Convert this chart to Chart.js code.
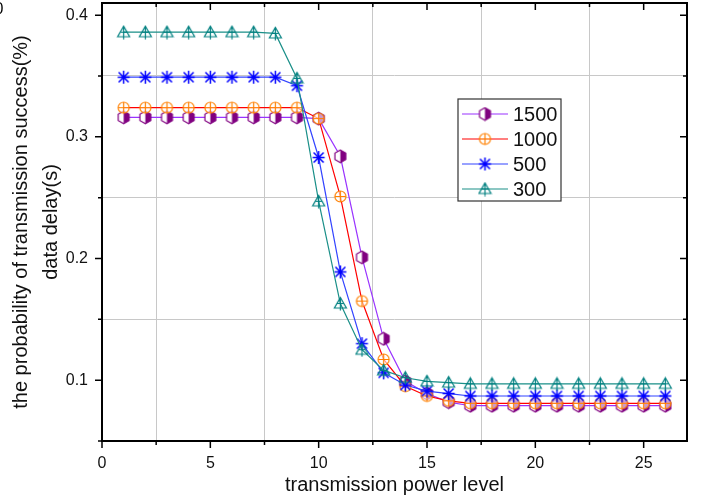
<!DOCTYPE html>
<html>
<head>
<meta charset="utf-8">
<script src="https://cdn.jsdelivr.net/npm/chart.js@4/dist/chart.umd.min.js"></script>
<style>
  html, body { margin: 0; padding: 0; background: #fff; }
  #chart { display: block; }
</style>
</head>
<body>
<canvas id="chart" width="704" height="503"></canvas>
<script>
'use strict';

// ---------------------------------------------------------------------------
// Data
// ---------------------------------------------------------------------------

const powerLevels = [1, 2, 3, 4, 5, 6, 7, 8, 9, 10, 11, 12, 13, 14, 15, 16, 17, 18, 19, 20, 21, 22, 23, 24, 25, 26];

const series1500 = [0.316, 0.316, 0.316, 0.316, 0.316, 0.316, 0.316, 0.316, 0.316, 0.315, 0.284, 0.201, 0.134,
                    0.099, 0.089, 0.082, 0.079, 0.079, 0.079, 0.079, 0.079, 0.079, 0.079, 0.079, 0.079, 0.079];
const series1000 = [0.324, 0.324, 0.324, 0.324, 0.324, 0.324, 0.324, 0.324, 0.324, 0.315, 0.251, 0.165, 0.117,
                    0.095, 0.087, 0.083, 0.081, 0.081, 0.081, 0.081, 0.081, 0.081, 0.081, 0.081, 0.081, 0.081];
const series500  = [0.349, 0.349, 0.349, 0.349, 0.349, 0.349, 0.349, 0.349, 0.342, 0.283, 0.189, 0.130, 0.106,
                    0.096, 0.091, 0.089, 0.087, 0.087, 0.087, 0.087, 0.087, 0.087, 0.087, 0.087, 0.087, 0.087];
const series300  = [0.386, 0.386, 0.386, 0.386, 0.386, 0.386, 0.386, 0.385, 0.348, 0.247, 0.163, 0.125, 0.108,
                    0.102, 0.099, 0.098, 0.097, 0.097, 0.097, 0.097, 0.097, 0.097, 0.097, 0.097, 0.097, 0.097];

const seriesLabels = ['1500', '1000', '500', '300'];

const xTickValues = [0, 2.5, 5, 7.5, 10, 12.5, 15, 17.5, 20, 22.5, 25];
const yTickValues = [0.05, 0.1, 0.15, 0.2, 0.25, 0.3, 0.35, 0.4];

const xTitle = 'transmission power level';
const yTitle = ['the probability of transmission success(%)', 'data delay(s)'];

// ---------------------------------------------------------------------------
// Marker canvases
// ---------------------------------------------------------------------------

const FONT = '"Liberation Sans", Arial, sans-serif';

function markerCanvas(draw) {
  const c = document.createElement('canvas');
  c.width = 15;
  c.height = 15;
  const g = c.getContext('2d');
  g.translate(7.5, 7.5);
  draw(g);
  return c;
}

const hexMarker = markerCanvas(g => {
  const r = 6.3;
  g.beginPath();
  for (let i = 0; i < 6; i++) {
    const a = -Math.PI / 2 + i * Math.PI / 3;
    const px = Math.cos(a) * r, py = Math.sin(a) * r;
    if (i === 0) g.moveTo(px, py); else g.lineTo(px, py);
  }
  g.closePath();
  g.fillStyle = '#fff';
  g.fill();
  g.save();
  g.clip();
  g.fillStyle = '#800080';
  g.fillRect(0, -8, 8, 16);
  g.restore();
  g.strokeStyle = '#800080';
  g.lineWidth = 1.2;
  g.stroke();
});

const circleMarker = markerCanvas(g => {
  g.strokeStyle = '#ff8000';
  g.lineWidth = 1.2;
  g.beginPath();
  g.arc(0, 0, 5.5, 0, Math.PI * 2);
  g.fillStyle = 'rgba(255,255,255,0.6)';
  g.fill();
  g.stroke();
  g.beginPath();
  g.moveTo(-5.5, 0); g.lineTo(5.5, 0);
  g.moveTo(0, -5.5); g.lineTo(0, 5.5);
  g.stroke();
});

const starMarker = markerCanvas(g => {
  g.strokeStyle = '#0000ff';
  g.lineWidth = 1.5;
  g.beginPath();
  g.moveTo(0, -6.5); g.lineTo(0, 6.5);
  g.moveTo(-6, 0); g.lineTo(6, 0);
  g.moveTo(-5, -5); g.lineTo(5, 5);
  g.moveTo(-5, 5); g.lineTo(5, -5);
  g.stroke();
});

const triangleMarker = markerCanvas(g => {
  g.strokeStyle = '#008080';
  g.lineWidth = 1.2;
  g.beginPath();
  g.moveTo(0, -6); g.lineTo(6, 4.5); g.lineTo(-6, 4.5);
  g.closePath();
  g.stroke();
  g.beginPath();
  g.moveTo(0, -6); g.lineTo(0, 7);
  g.moveTo(-3.5, 0); g.lineTo(3.5, 0);
  g.stroke();
});

const markers    = [hexMarker, circleMarker, starMarker, triangleMarker];
const lineColors = ['#9933ff', '#ff0000', '#3344ff', '#1a8f88'];

// ---------------------------------------------------------------------------
// Plugins: frame with ticks, legend box, stray corner glyph
// ---------------------------------------------------------------------------

const isMajorX = v => Math.abs(v % 5) < 1e-9;
const isMajorY = v => Math.abs(v * 10 - Math.round(v * 10)) < 1e-9;

const framePlugin = {
  id: 'frame',
  afterDraw(chart) {
    const { ctx, chartArea: a, scales: { x, y } } = chart;
    ctx.save();
    ctx.strokeStyle = '#000';
    ctx.lineWidth = 2;
    ctx.strokeRect(a.left, a.top, a.right - a.left, a.bottom - a.top);
    ctx.lineWidth = 1.5;
    ctx.beginPath();
    for (const v of xTickValues) {
      const px = x.getPixelForValue(v);
      const len = isMajorX(v) ? 7 : 4;
      ctx.moveTo(px, a.bottom); ctx.lineTo(px, a.bottom + len);
      ctx.moveTo(px, a.top);    ctx.lineTo(px, a.top + len);
    }
    for (const v of yTickValues) {
      const py = y.getPixelForValue(v);
      const len = isMajorY(v) ? 7 : 4;
      ctx.moveTo(a.left, py);  ctx.lineTo(a.left - len, py);
      ctx.moveTo(a.right, py); ctx.lineTo(a.right - len, py);
    }
    ctx.stroke();

    // clipped glyph in the top-left corner of the original
    ctx.fillStyle = '#000';
    ctx.font = '16px ' + FONT;
    ctx.textBaseline = 'middle';
    ctx.fillText('0', -5.5, 10);
    ctx.restore();
  },
};

const legendPlugin = {
  id: 'boxLegend',
  afterDraw(chart) {
    const { ctx } = chart;
    const box = { left: 458, top: 99, width: 103, height: 102 };
    ctx.save();
    ctx.fillStyle = '#fff';
    ctx.fillRect(box.left, box.top, box.width, box.height);
    ctx.strokeStyle = '#333';
    ctx.lineWidth = 1.2;
    ctx.strokeRect(box.left, box.top, box.width, box.height);
    ctx.font = '20px ' + FONT;
    ctx.textBaseline = 'middle';
    seriesLabels.forEach((label, i) => {
      const cy = 114 + i * 25;
      ctx.strokeStyle = lineColors[i];
      ctx.lineWidth = 1.2;
      ctx.beginPath();
      ctx.moveTo(462, cy); ctx.lineTo(508, cy);
      ctx.stroke();
      ctx.drawImage(markers[i], 485 - 7.5, cy - 7.5);
      ctx.fillStyle = '#111';
      ctx.fillText(label, 513, cy + 1);
    });
    ctx.restore();
  },
};

// ---------------------------------------------------------------------------
// Chart
// ---------------------------------------------------------------------------

const seriesValues = [series1500, series1000, series500, series300];

const datasets = seriesValues.map((vals, i) => ({
  label: seriesLabels[i],
  data: powerLevels.map((p, j) => ({ x: p, y: vals[j] })),
  borderColor: lineColors[i],
  borderWidth: 1.2,
  pointStyle: markers[i],
  pointRadius: 6,
  tension: 0,
  fill: false,
  order: 4 - i,
}));

new Chart(document.getElementById('chart'), {
  type: 'line',
  data: { datasets },
  options: {
    responsive: false,
    animation: false,
    layout: { autoPadding: false, padding: { left: 0, top: 3, right: 17, bottom: 0 } },
    plugins: {
      legend:  { display: false },
      tooltip: { enabled: false },
    },
    scales: {
      x: {
        type: 'linear',
        min: 0,
        max: 27,
        afterBuildTicks: s => { s.ticks = xTickValues.map(v => ({ value: v })); },
        afterFit: s => { s.height = 62; s.paddingLeft = 0; s.paddingRight = 0; },
        border: { display: false },
        grid: {
          drawTicks: false,
          color: c => (c.tick && !isMajorX(c.tick.value) ? '#c8c8c8' : 'rgba(0,0,0,0)'),
          lineWidth: 1,
        },
        ticks: {
          autoSkip: false,
          maxRotation: 0,
          padding: 13,
          color: '#111',
          font: { family: FONT, size: 16 },
          callback: v => (isMajorX(v) ? String(v) : ''),
        },
        title: {
          display: true,
          text: xTitle,
          color: '#111',
          font: { family: FONT, size: 20 },
          padding: { top: 0, bottom: 6 },
        },
      },
      y: {
        type: 'linear',
        min: 0.05,
        max: 0.41,
        afterBuildTicks: s => { s.ticks = yTickValues.map(v => ({ value: v })); },
        afterFit: s => { s.width = 102; s.paddingTop = 0; s.paddingBottom = 0; },
        border: { display: false },
        grid: {
          drawTicks: false,
          color: c => (c.tick && !isMajorY(c.tick.value) ? '#c8c8c8' : 'rgba(0,0,0,0)'),
          lineWidth: 1,
        },
        ticks: {
          autoSkip: false,
          padding: 14,
          color: '#111',
          font: { family: FONT, size: 16 },
          callback: v => (isMajorY(v) ? v.toFixed(1) : ''),
        },
        title: {
          display: true,
          text: yTitle,
          color: '#111',
          font: { family: FONT, size: 20, lineHeight: 1.5 },
          padding: { top: 6, bottom: 0 },
        },
      },
    },
  },
  plugins: [framePlugin, legendPlugin],
});
</script>
</body>
</html>
